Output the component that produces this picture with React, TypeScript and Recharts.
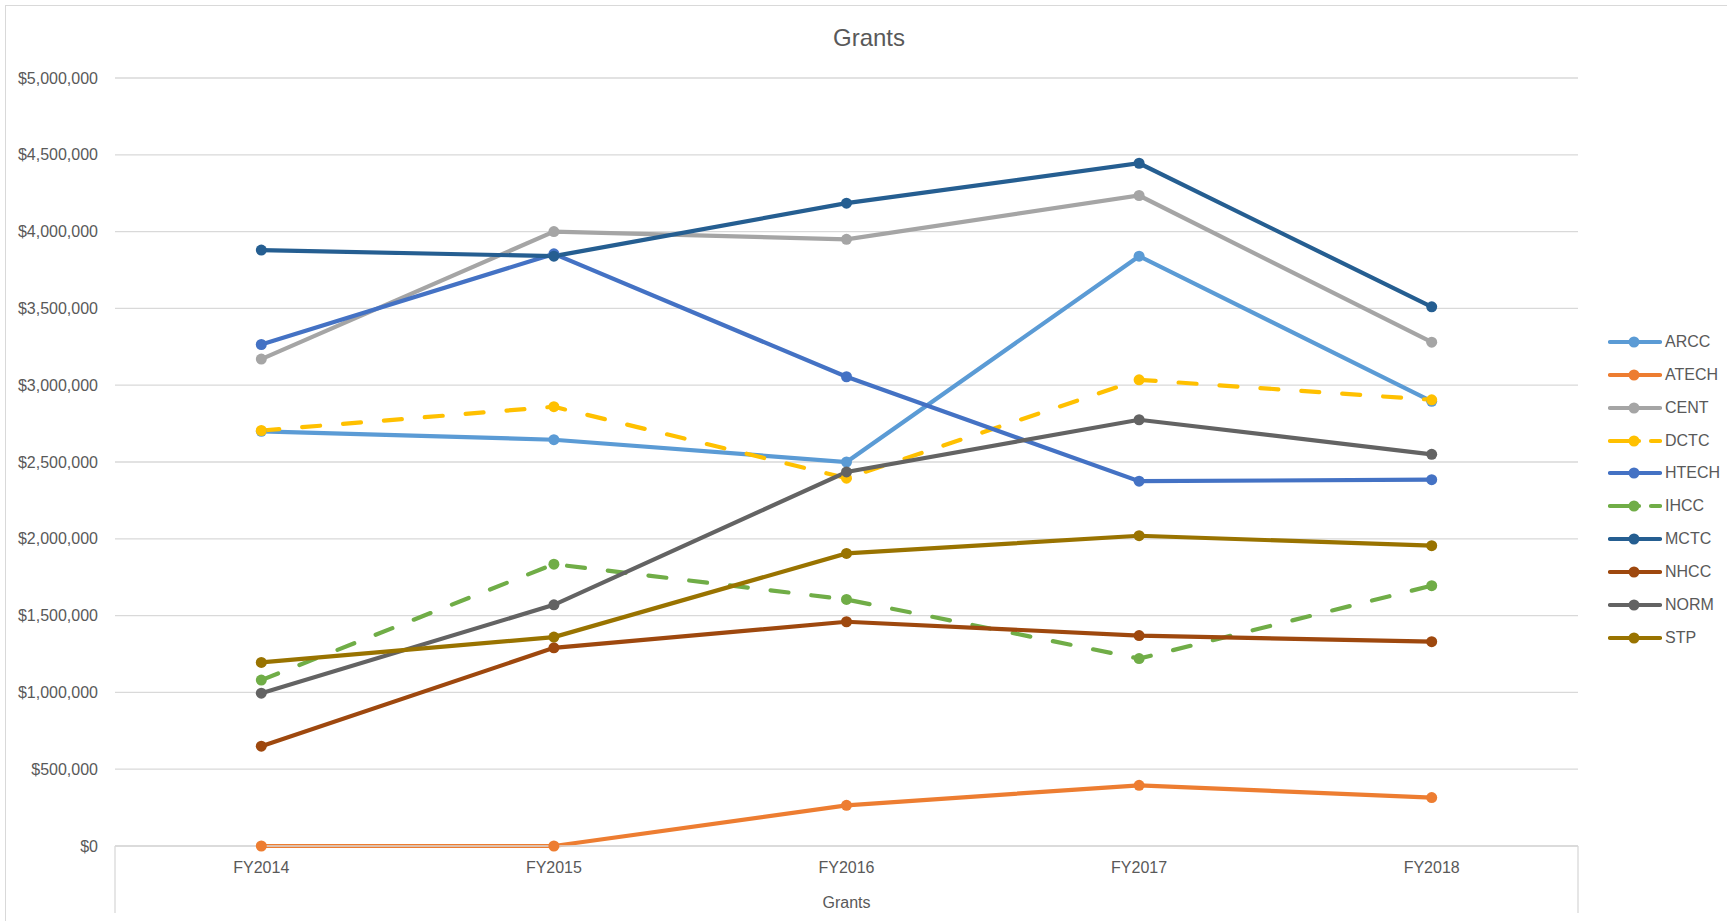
import { CartesianGrid, Line, LineChart, XAxis, YAxis } from "recharts";

const years = ["FY2014", "FY2015", "FY2016", "FY2017", "FY2018"];
const yTicks = [0, 500000, 1000000, 1500000, 2000000, 2500000, 3000000, 3500000, 4000000, 4500000, 5000000];

const arcc = [2700000, 2645000, 2500000, 3840000, 2895000];
const atech = [0, 0, 265000, 395000, 315000];
const cent = [3170000, 4000000, 3950000, 4235000, 3280000];
const dctc = [2705000, 2860000, 2395000, 3035000, 2905000];
const htech = [3265000, 3855000, 3055000, 2375000, 2385000];
const ihcc = [1080000, 1835000, 1605000, 1220000, 1695000];
const mctc = [3880000, 3840000, 4185000, 4445000, 3510000];
const nhcc = [650000, 1290000, 1460000, 1370000, 1330000];
const norm = [995000, 1570000, 2435000, 2775000, 2550000];
const stp = [1195000, 1360000, 1905000, 2020000, 1955000];

const seriesNames = ["ARCC", "ATECH", "CENT", "DCTC", "HTECH", "IHCC", "MCTC", "NHCC", "NORM", "STP"];
const seriesValues = [arcc, atech, cent, dctc, htech, ihcc, mctc, nhcc, norm, stp];

// styling kept apart from the values
const colors: Record<string, string> = {
	ARCC: "#5B9BD5",
	ATECH: "#ED7D31",
	CENT: "#A5A5A5",
	DCTC: "#FFC000",
	HTECH: "#4472C4",
	IHCC: "#70AD47",
	MCTC: "#255E91",
	NHCC: "#9E480E",
	NORM: "#636363",
	STP: "#997300",
};
const dashed = new Set(["DCTC", "IHCC"]);

const rows = years.map((year, i) => {
	const row: Record<string, string | number> = { year };
	seriesNames.forEach((name, s) => {
		row[name] = seriesValues[s][i];
	});
	return row;
});

const FONT = '"Liberation Sans", Arial, sans-serif';
const TEXT = "#595959";
const GRID = "#D9D9D9";

const W = 1727;
const H = 921;
const PLOT_LEFT = 115;
const PLOT_RIGHT = 1578;
const PLOT_BOTTOM = 846;
const HALF_BAND = (PLOT_RIGHT - PLOT_LEFT) / years.length / 2;

const fmtMoney = (v: number) => "$" + v.toLocaleString("en-US");

function LegendBox() {
	return (
		<div style={{ position: "absolute", left: 1608, top: 342 - 16.4, fontFamily: FONT }}>
			{seriesNames.map((name) => (
				<div key={name} style={{ display: "flex", alignItems: "center", height: 32.85 }}>
					<svg width={54} height={12} style={{ display: "block" }}>
						<line
							x1={2}
							x2={52}
							y1={6}
							y2={6}
							stroke={colors[name]}
							strokeWidth={4.2}
							strokeLinecap="round"
							strokeDasharray={dashed.has(name) ? "29 12" : undefined}
						/>
						<circle cx={26} cy={6} r={5.5} fill={colors[name]} />
					</svg>
					<span style={{ fontSize: 16, color: TEXT, marginLeft: 3, lineHeight: "16px" }}>{name}</span>
				</div>
			))}
		</div>
	);
}

export default function App() {
	return (
		<div
			style={{
				position: "absolute",
				left: 0,
				top: 0,
				width: W,
				height: H,
				overflow: "hidden",
				background: "#fff",
				fontFamily: FONT,
			}}
		>
			<div
				style={{
					position: "absolute",
					left: 5,
					top: 5,
					width: W + 20,
					height: H + 20,
					border: `1px solid ${GRID}`,
				}}
			/>
			<LineChart
				width={W}
				height={H}
				data={rows}
				margin={{ top: 78, right: W - PLOT_RIGHT, bottom: 0, left: PLOT_LEFT - 100 }}
				style={{ position: "absolute", left: 0, top: 0 }}
			>
				<CartesianGrid vertical={false} stroke={GRID} strokeWidth={1.3} />
				<XAxis
					dataKey="year"
					height={H - PLOT_BOTTOM}
					padding={{ left: HALF_BAND, right: HALF_BAND }}
					axisLine={{ stroke: GRID, strokeWidth: 1.3 }}
					tickLine={false}
					tickSize={6}
					tickMargin={10}
					tick={{ fontSize: 16, fill: TEXT, fontFamily: FONT }}
				/>
				<YAxis
					width={100}
					domain={[0, 5000000]}
					ticks={yTicks}
					tickFormatter={fmtMoney}
					axisLine={false}
					tickLine={false}
					tickSize={6}
					tickMargin={11}
					tick={{ fontSize: 16, fill: TEXT, fontFamily: FONT }}
				/>
				{seriesNames.map((name) => (
					<Line
						key={name}
						type="linear"
						dataKey={name}
						stroke={colors[name]}
						strokeWidth={4.2}
						strokeLinecap="round"
						strokeDasharray={dashed.has(name) ? "18 23" : undefined}
						dot={{ r: 5.5, fill: colors[name], stroke: "none", strokeDasharray: "" }}
						activeDot={false}
						isAnimationActive={false}
					/>
				))}
			</LineChart>
			<svg
				width={W}
				height={H}
				style={{ position: "absolute", left: 0, top: 0, pointerEvents: "none" }}
			>
				<text x={869} y={37} textAnchor="middle" dominantBaseline="central" fontSize={24} fill={TEXT} fontFamily={FONT}>
					Grants
				</text>
				<text
					x={(PLOT_LEFT + PLOT_RIGHT) / 2}
					y={902}
					textAnchor="middle"
					dominantBaseline="central"
					fontSize={16}
					fill={TEXT}
					fontFamily={FONT}
				>
					Grants
				</text>
				<line x1={PLOT_LEFT} x2={PLOT_LEFT} y1={PLOT_BOTTOM} y2={913} stroke={GRID} strokeWidth={1.3} />
				<line x1={PLOT_RIGHT} x2={PLOT_RIGHT} y1={PLOT_BOTTOM} y2={913} stroke={GRID} strokeWidth={1.3} />
			</svg>
			<LegendBox />
		</div>
	);
}
